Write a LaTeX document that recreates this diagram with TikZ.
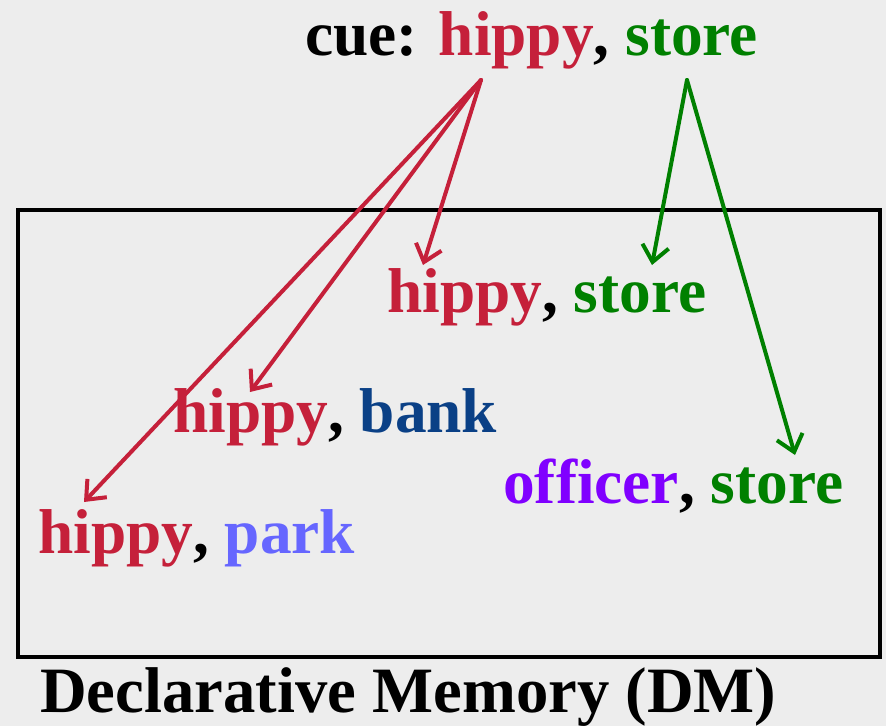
\documentclass[tikz,border=0pt]{standalone}
\usepackage{fontspec}
\setmainfont{Liberation Serif}
\usetikzlibrary{arrows.meta}

\definecolor{hippyred}{HTML}{C5203A}
\definecolor{storegreen}{HTML}{008000}
\definecolor{bankblue}{HTML}{0A4086}
\definecolor{parkblue}{HTML}{6666FF}
\definecolor{officerviolet}{HTML}{8000FF}
\definecolor{paper}{HTML}{EDEDED}

\tikzset{
  word/.style={anchor=base west, inner sep=0pt, font=\fontsize{47.5}{56}\selectfont\bfseries},
  link/.style={line width=3pt, line cap=round, -{Straight Barb[length=12pt,width=20pt]}},
}

\begin{document}
\begin{tikzpicture}[x=0.75pt,y=-0.75pt]
\fill[paper] (0,0) rectangle (886,726);
\useasboundingbox (0,0) rectangle (886,726);

% memory box
\draw[line width=3pt] (18,210) rectangle (880,657);

\node[word] (cue) at (305,55) {cue: \textcolor{hippyred}{hippy}, \textcolor{storegreen}{store}};
\node[word] (hs) at (387,312) {\textcolor{hippyred}{hippy}, \textcolor{storegreen}{store}};
\node[word] (hb) at (173,432) {\textcolor{hippyred}{hippy}, \textcolor{bankblue}{bank}};
\node[word] (hp) at (38,553) {\textcolor{hippyred}{hippy}, \textcolor{parkblue}{park}};
\node[word] (os) at (503,503) {\textcolor{officerviolet}{officer}, \textcolor{storegreen}{store}};
\node[word, font=\fontsize{48.5}{58}\selectfont\bfseries] (dm) at (40,712) {Declarative Memory (DM)};

\coordinate (H) at (481,80);
\coordinate (S) at (687,80);
\coordinate (hsH) at (423,265);
\coordinate (hsS) at (652,265);
\coordinate (hbH) at (250,392);
\coordinate (hpH) at (84,502);
\coordinate (osS) at (795,455);

\draw[link, hippyred] (H) -- (hsH);
\draw[link, hippyred] (H) -- (hbH);
\draw[link, hippyred] (H) -- (hpH);
\draw[link, storegreen] (S) -- (hsS);
\draw[link, storegreen] (S) -- (osS);
\end{tikzpicture}
\end{document}
